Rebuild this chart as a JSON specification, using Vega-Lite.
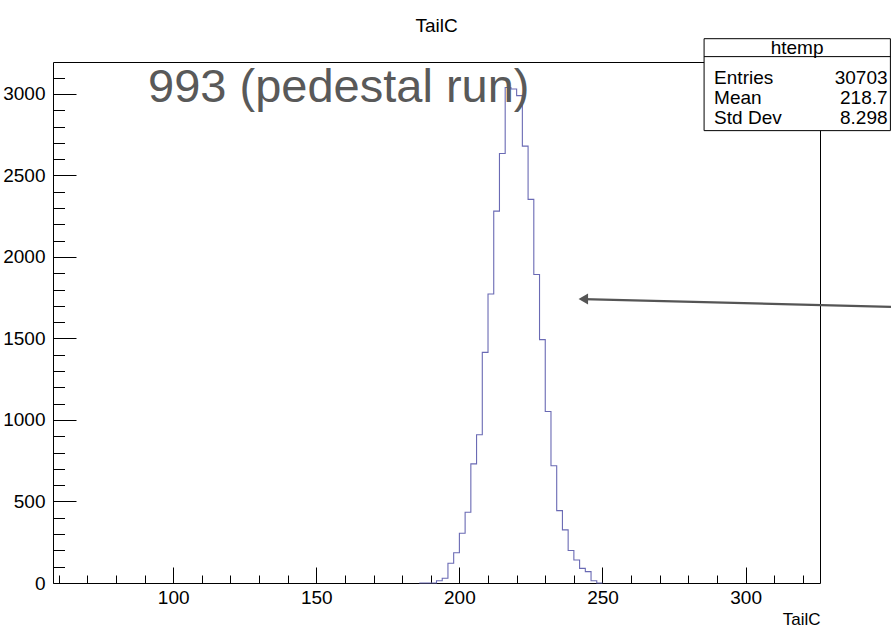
{
  "$schema": "https://vega.github.io/schema/vega-lite/v6.json",
  "width": 767,
  "height": 521,
  "autosize": "none",
  "padding": {"left": 53, "top": 62, "right": 71, "bottom": 51},
  "background": "white",
  "title": {"text": "TailC", "anchor": "middle", "font": "Liberation Sans", "fontSize": 19, "fontWeight": "normal", "color": "black", "baseline": "alphabetic", "offset": -13},
  "config": {"view": {"stroke": "black", "strokeWidth": 1}},
  "datasets": {
    "hist": [
      {"x": 186, "count": 0}, {"x": 188, "count": 0}, {"x": 190, "count": 0},
      {"x": 192, "count": 14}, {"x": 194, "count": 29}, {"x": 196, "count": 121},
      {"x": 198, "count": 186}, {"x": 200, "count": 305}, {"x": 202, "count": 434},
      {"x": 204, "count": 731}, {"x": 206, "count": 909}, {"x": 208, "count": 1415},
      {"x": 210, "count": 1773}, {"x": 212, "count": 2281}, {"x": 214, "count": 2635},
      {"x": 216, "count": 3040}, {"x": 218, "count": 3030}, {"x": 220, "count": 2990},
      {"x": 222, "count": 2680}, {"x": 224, "count": 2353}, {"x": 226, "count": 1892},
      {"x": 228, "count": 1493}, {"x": 230, "count": 1052}, {"x": 232, "count": 719},
      {"x": 234, "count": 444}, {"x": 236, "count": 326}, {"x": 238, "count": 199},
      {"x": 240, "count": 141}, {"x": 242, "count": 90}, {"x": 244, "count": 70},
      {"x": 246, "count": 14}, {"x": 248, "count": 0}, {"x": 250, "count": 0}
    ],
    "stats": [
      {"label": "Entries", "value": "30703"},
      {"label": "Mean", "value": "218.7"},
      {"label": "Std Dev", "value": "8.298"}
    ],
    "box": [{"name": "htemp"}],
    "note": [{"text": "993 (pedestal run)"}]
  },
  "layer": [
    {
      "data": {"name": "hist"},
      "mark": {"type": "line", "interpolate": "step-after", "color": "#6a6ab4", "strokeWidth": 1.1},
      "encoding": {
        "x": {
          "field": "x", "type": "quantitative",
          "scale": {"domain": [58, 326], "nice": false, "zero": false},
          "axis": {
            "values": [60,70,80,90,100,110,120,130,140,150,160,170,180,190,200,210,220,230,240,250,260,270,280,290,300,310,320],
            "tickCount": 1000,
            "format": "d",
            "labelExpr": "datum.value % 50 === 0 ? datum.label : ''",
            "tickSize": {"condition": {"test": "datum.value % 50 === 0", "value": -16}, "value": -8},
            "tickColor": "black", "tickWidth": 1,
            "domain": false, "grid": false,
            "labelFont": "Liberation Sans", "labelFontSize": 19, "labelColor": "black",
            "labelPadding": 21, "labelFlush": false, "labelOverlap": false,
            "title": "TailC", "titleAnchor": "end", "titleFont": "Liberation Sans",
            "titleFontSize": 17, "titleFontWeight": "normal", "titleColor": "black", "titlePadding": -4
          }
        },
        "y": {
          "field": "count", "type": "quantitative",
          "scale": {"domain": [0, 3196], "nice": false},
          "axis": {
            "values": [0,100,200,300,400,500,600,700,800,900,1000,1100,1200,1300,1400,1500,1600,1700,1800,1900,2000,2100,2200,2300,2400,2500,2600,2700,2800,2900,3000,3100],
            "tickCount": 1000,
            "format": "d",
            "labelExpr": "datum.value % 500 === 0 ? datum.label : ''",
            "tickSize": {"condition": {"test": "datum.value % 500 === 0", "value": -23}, "value": -11.5},
            "tickColor": "black", "tickWidth": 1,
            "domain": false, "grid": false,
            "labelFont": "Liberation Sans", "labelFontSize": 19, "labelColor": "black",
            "labelPadding": 31, "labelFlush": false, "labelOverlap": false,
            "title": null
          }
        }
      }
    },
    {
      "data": {"name": "note"},
      "mark": {"type": "text", "align": "left", "baseline": "alphabetic", "font": "Liberation Sans", "fontSize": 47, "color": "#595959", "clip": false},
      "encoding": {
        "x": {"datum": 91.2, "type": "quantitative"},
        "y": {"datum": 2953, "type": "quantitative"},
        "text": {"field": "text"}
      }
    },
    {
      "data": {"values": [{}]},
      "mark": {"type": "rule", "color": "#555555", "strokeWidth": 2.2, "clip": false},
      "encoding": {
        "x": {"datum": 243.3, "type": "quantitative"},
        "y": {"datum": 1742, "type": "quantitative"},
        "x2": {"datum": 350.8},
        "y2": {"datum": 1694}
      }
    },
    {
      "data": {"values": [{}]},
      "mark": {"type": "point", "shape": "triangle-left", "filled": true, "size": 120, "color": "#555555", "opacity": 1, "clip": false},
      "encoding": {
        "x": {"datum": 243.3, "type": "quantitative"},
        "y": {"datum": 1742, "type": "quantitative"}
      }
    },
    {
      "data": {"values": [{}]},
      "mark": {"type": "rect", "fill": "white", "stroke": "black", "strokeWidth": 1, "clip": false},
      "encoding": {
        "x": {"datum": 285.5, "type": "quantitative"},
        "x2": {"datum": 350.6},
        "y": {"datum": 3339, "type": "quantitative"},
        "y2": {"datum": 2775}
      }
    },
    {
      "data": {"values": [{}]},
      "mark": {"type": "rule", "color": "black", "strokeWidth": 1, "clip": false},
      "encoding": {
        "x": {"datum": 285.5, "type": "quantitative"},
        "x2": {"datum": 350.6},
        "y": {"datum": 3229, "type": "quantitative"}
      }
    },
    {
      "data": {"name": "box"},
      "mark": {"type": "text", "align": "center", "baseline": "middle", "font": "Liberation Sans", "fontSize": 19, "color": "black", "clip": false},
      "encoding": {
        "x": {"datum": 318.0, "type": "quantitative"},
        "y": {"datum": 3284, "type": "quantitative"},
        "text": {"field": "name"}
      }
    },
    {
      "data": {"name": "stats"},
      "transform": [{"filter": "datum.label === 'Entries'"}],
      "encoding": {"y": {"datum": 3100, "type": "quantitative"}},
      "layer": [
        {"mark": {"type": "text", "align": "left", "baseline": "middle", "font": "Liberation Sans", "fontSize": 19, "color": "black", "clip": false},
         "encoding": {"x": {"datum": 289.0, "type": "quantitative"}, "text": {"field": "label"}}},
        {"mark": {"type": "text", "align": "right", "baseline": "middle", "font": "Liberation Sans", "fontSize": 19, "color": "black", "clip": false},
         "encoding": {"x": {"datum": 349.6, "type": "quantitative"}, "text": {"field": "value"}}}
      ]
    },
    {
      "data": {"name": "stats"},
      "transform": [{"filter": "datum.label === 'Mean'"}],
      "encoding": {"y": {"datum": 2977, "type": "quantitative"}},
      "layer": [
        {"mark": {"type": "text", "align": "left", "baseline": "middle", "font": "Liberation Sans", "fontSize": 19, "color": "black", "clip": false},
         "encoding": {"x": {"datum": 289.0, "type": "quantitative"}, "text": {"field": "label"}}},
        {"mark": {"type": "text", "align": "right", "baseline": "middle", "font": "Liberation Sans", "fontSize": 19, "color": "black", "clip": false},
         "encoding": {"x": {"datum": 349.6, "type": "quantitative"}, "text": {"field": "value"}}}
      ]
    },
    {
      "data": {"name": "stats"},
      "transform": [{"filter": "datum.label === 'Std Dev'"}],
      "encoding": {"y": {"datum": 2855, "type": "quantitative"}},
      "layer": [
        {"mark": {"type": "text", "align": "left", "baseline": "middle", "font": "Liberation Sans", "fontSize": 19, "color": "black", "clip": false},
         "encoding": {"x": {"datum": 289.0, "type": "quantitative"}, "text": {"field": "label"}}},
        {"mark": {"type": "text", "align": "right", "baseline": "middle", "font": "Liberation Sans", "fontSize": 19, "color": "black", "clip": false},
         "encoding": {"x": {"datum": 349.6, "type": "quantitative"}, "text": {"field": "value"}}}
      ]
    }
  ]
}
